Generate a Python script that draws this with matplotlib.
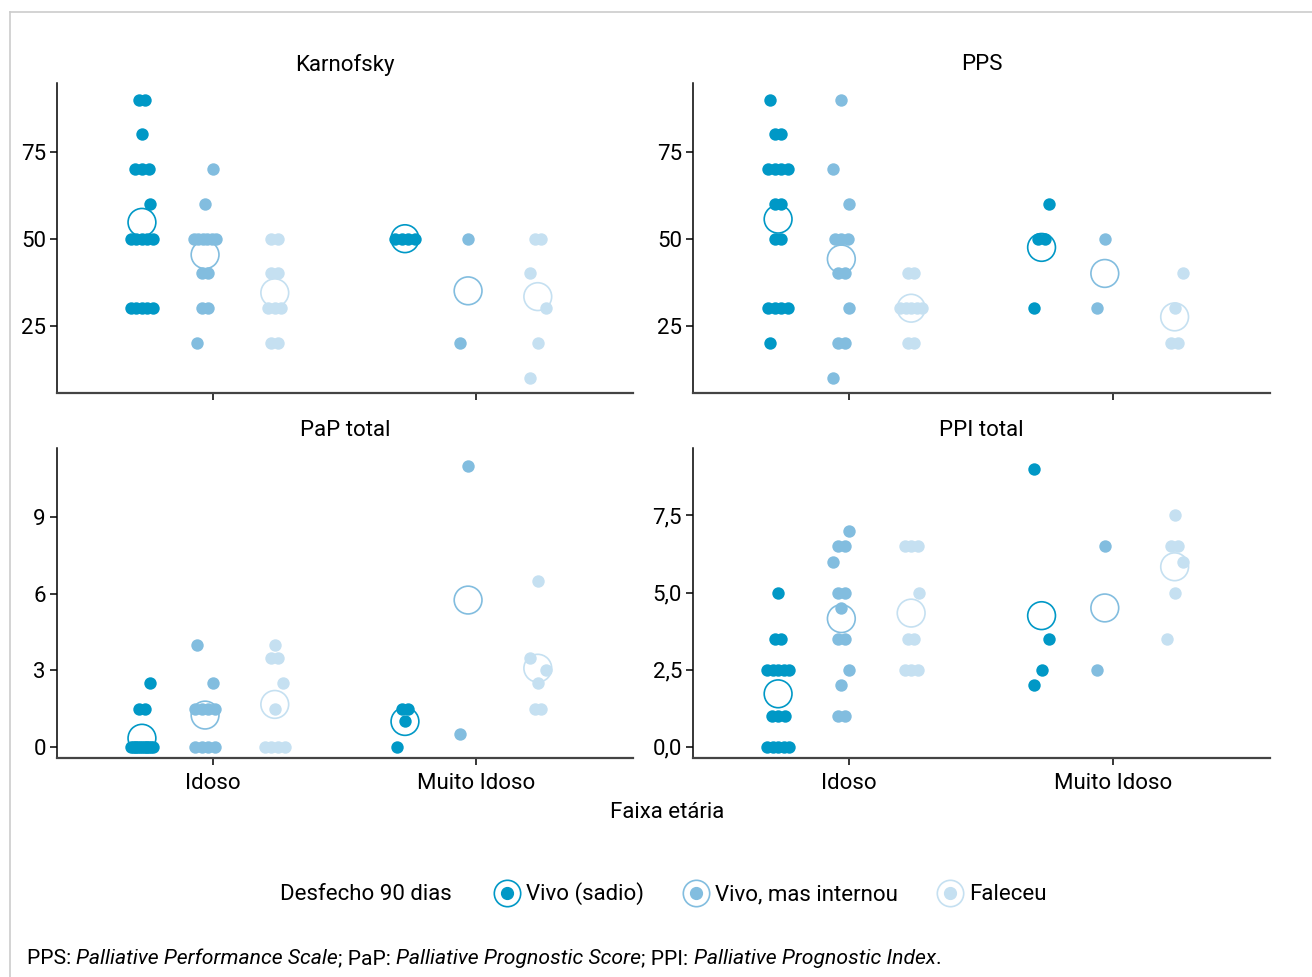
"""
Escores prognósticos por faixa etária e desfecho em 90 dias.
"""

import numpy as np
import matplotlib.pyplot as plt
from matplotlib.lines import Line2D
from matplotlib.legend_handler import HandlerTuple

plt.rcParams['font.family'] = ['Roboto', 'DejaVu Sans']

W, H = 1312, 977

age_groups = ["Idoso", "Muito Idoso"]
outcomes = ["Vivo (sadio)", "Vivo, mas internou", "Faleceu"]
colors = ["#0098C6", "#82BDDF", "#C5E0F1"]

# Karnofsky
karnofsky_idoso_vivo = [90, 90, 80, 70, 70, 70, 60, 50, 50, 50, 50, 50, 30, 30, 30, 30, 30]
karnofsky_idoso_intern = [70, 60, 50, 50, 50, 50, 50, 50, 40, 40, 30, 30, 20]
karnofsky_idoso_falec = [50, 50, 40, 40, 30, 30, 30, 20, 20]
karnofsky_muito_vivo = [50, 50, 50, 50]
karnofsky_muito_intern = [50, 20]
karnofsky_muito_falec = [50, 50, 40, 30, 20, 10]

# PPS
pps_idoso_vivo = [90, 80, 80, 70, 70, 70, 70, 60, 60, 50, 50, 30, 30, 30, 30, 20]
pps_idoso_intern = [90, 70, 60, 50, 50, 50, 40, 40, 30, 20, 20, 10]
pps_idoso_falec = [40, 40, 30, 30, 30, 30, 30, 20, 20]
pps_muito_vivo = [60, 50, 50, 30]
pps_muito_intern = [50, 30]
pps_muito_falec = [40, 30, 20, 20]

# PaP total
pap_idoso_vivo = [2.5, 1.5, 1.5] + [0] * 13
pap_idoso_intern = [4, 2.5, 1.5, 1.5, 1.5, 1.5, 0, 0, 0, 0]
pap_idoso_falec = [4, 3.5, 3.5, 2.5, 1.5, 0, 0, 0, 0]
pap_muito_vivo = [1.5, 1.5, 1, 0]
pap_muito_intern = [11, 0.5]
pap_muito_falec = [6.5, 3.5, 3, 2.5, 1.5, 1.5]

# PPI total
ppi_idoso_vivo = [5, 3.5, 3.5, 2.5, 2.5, 2.5, 2.5, 2.5, 1, 1, 1, 0, 0, 0, 0, 0]
ppi_idoso_intern = [7, 6.5, 6.5, 6, 5, 5, 4.5, 3.5, 3.5, 2.5, 2, 1, 1]
ppi_idoso_falec = [6.5, 6.5, 6.5, 5, 3.5, 3.5, 2.5, 2.5, 2.5]
ppi_muito_vivo = [9, 3.5, 2.5, 2]
ppi_muito_intern = [6.5, 2.5]
ppi_muito_falec = [7.5, 6.5, 6.5, 6, 5, 3.5]

panels = [
    ("Karnofsky", [[karnofsky_idoso_vivo, karnofsky_idoso_intern, karnofsky_idoso_falec],
                   [karnofsky_muito_vivo, karnofsky_muito_intern, karnofsky_muito_falec]],
     [25, 50, 75], ["25", "50", "75"], (5.6, 94.8)),
    ("PPS", [[pps_idoso_vivo, pps_idoso_intern, pps_idoso_falec],
             [pps_muito_vivo, pps_muito_intern, pps_muito_falec]],
     [25, 50, 75], ["25", "50", "75"], (5.6, 94.8)),
    ("PaP total", [[pap_idoso_vivo, pap_idoso_intern, pap_idoso_falec],
                   [pap_muito_vivo, pap_muito_intern, pap_muito_falec]],
     [0, 3, 6, 9], ["0", "3", "6", "9"], (-0.43, 11.7)),
    ("PPI total", [[ppi_idoso_vivo, ppi_idoso_intern, ppi_idoso_falec],
                   [ppi_muito_vivo, ppi_muito_intern, ppi_muito_falec]],
     [0, 2.5, 5, 7.5], ["0,0", "2,5", "5,0", "7,5"], (-0.36, 9.68)),
]

dodge = [-0.27, -0.03, 0.235]


def spread(values, step=0.025, half=0.042):
    """Horizontal offsets so that equal values sit side by side."""
    values = np.asarray(values, float)
    offs = np.zeros(len(values))
    for j, v in enumerate(np.unique(values)):
        idx = np.where(values == v)[0]
        k = len(idx)
        if k == 1:
            offs[idx] = ((j % 3) - 1) * 0.03
        else:
            s = min(step, 2 * half / (k - 1))
            offs[idx] = (np.arange(k) - (k - 1) / 2) * s
    return offs


fig = plt.figure(figsize=(W / 100, H / 100), dpi=100)

rects = [
    (57 / W, 1 - 393 / H, 576 / W, 310 / H),
    (693 / W, 1 - 393 / H, 577 / W, 310 / H),
    (57 / W, 1 - 758 / H, 576 / W, 310 / H),
    (693 / W, 1 - 758 / H, 577 / W, 310 / H),
]

for i, (title, table, yticks, ylabels, ylim) in enumerate(panels):
    ax = fig.add_axes(rects[i])
    for g, row in enumerate(table):
        for o, vals in enumerate(row):
            x0 = g + 1 + dodge[o]
            ax.scatter([x0], [np.mean(vals)], s=400, facecolors="none",
                       edgecolors=colors[o], linewidths=1.2, zorder=2)
            ax.scatter(x0 + spread(vals), vals, s=80, color=colors[o],
                       linewidths=0, zorder=3)
    ax.set_xlim(0.407, 2.597)
    ax.set_ylim(*ylim)
    ax.set_yticks(yticks)
    ax.set_yticklabels(ylabels)
    ax.set_xticks([1, 2])
    if i >= 2:
        ax.set_xticklabels(age_groups)
    else:
        ax.set_xticklabels([])
    ax.set_title(title, fontsize=16, pad=9)
    for side in ["top", "right"]:
        ax.spines[side].set_visible(False)
    ax.spines["left"].set_linewidth(1.1)
    ax.spines["bottom"].set_linewidth(1.6)
    ax.spines["bottom"].set_color("#444444")
    ax.tick_params(axis="both", labelsize=16, length=5, width=1.1, pad=3)
    ax.tick_params(axis="x", pad=6)

fig.text(667 / W, 1 - 812 / H, "Faixa etária", ha="center", va="center", fontsize=16)

# legend
fig.text(280 / W, 1 - 894 / H, "Desfecho 90 dias", ha="left", va="center", fontsize=16)
handles = []
for c in colors:
    ring = Line2D([], [], marker="o", markersize=19, markerfacecolor="white",
                  markeredgecolor=c, markeredgewidth=1.2, linestyle="none")
    dot = Line2D([], [], marker="o", markersize=8.5, color=c, linestyle="none")
    handles.append((ring, dot))
fig.legend(handles, outcomes, loc="center left", bbox_to_anchor=(485 / W, 1 - 894 / H),
           ncol=3, frameon=False, fontsize=16, handler_map={tuple: HandlerTuple(ndivide=1)},
           handlelength=1.2, handletextpad=0.25, columnspacing=1.75, borderaxespad=0)

# caption
over = fig.add_axes([0, 0, 1, 1], zorder=-1)
over.axis("off")
pieces = [("PPS: ", "normal"), ("Palliative Performance Scale", "italic"),
          ("; PaP: ", "normal"), ("Palliative Prognostic Score", "italic"),
          ("; PPI: ", "normal"), ("Palliative Prognostic Index", "italic"),
          (".", "normal")]
prev = None
for txt, st in pieces:
    if prev is None:
        prev = over.text(27 / W, 1 - 959 / H, txt, ha="left", va="center",
                         fontsize=15.2, style=st)
    else:
        prev = over.annotate(txt, xy=(1, 0), xycoords=prev, ha="left", va="bottom",
                             fontsize=15.2, style=st)

# frame lines around the panel
fig.add_artist(Line2D([10 / W, 1], [1 - 12 / H, 1 - 12 / H], transform=fig.transFigure,
                      color="#cccccc", lw=1.2))
fig.add_artist(Line2D([10 / W, 10 / W], [0, 1 - 12 / H], transform=fig.transFigure,
                      color="#cccccc", lw=1.2))

fig.savefig("out.png", dpi=100)
